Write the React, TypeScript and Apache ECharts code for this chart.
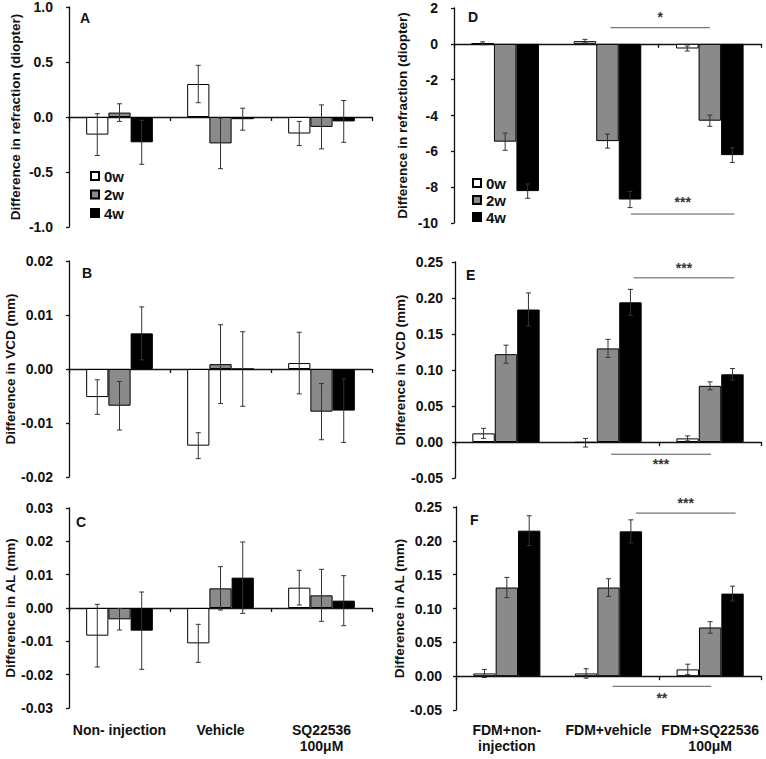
import React, { useEffect, useRef } from 'react';
import * as echarts from 'echarts';

// ---------- data ----------
const leftGroups = ['Non- injection', 'Vehicle', 'SQ22536\n100μM'];
const rightGroups = ['FDM+non-\ninjection', 'FDM+vehicle', 'FDM+SQ22536\n100μM'];
const weeks = ['0w', '2w', '4w'];

// Panel A: refraction (diopter), rows = 0w, 2w, 4w ; columns = groups
const refrMeanA = [
  [-0.16, 0.3, -0.15],
  [0.04, -0.24, -0.09],
  [-0.23, -0.02, -0.04],
];
const refrErrA = [
  [0.19, 0.17, 0.11],
  [0.08, 0.23, 0.2],
  [0.2, 0.1, 0.19],
];
// Panel B: VCD (mm)
const vcdMeanB = [
  [-0.0052, -0.0142, 0.0011],
  [-0.0068, 0.0009, -0.0079],
  [0.0066, 0.0, -0.0077],
];
const vcdErrB = [
  [0.0032, 0.0024, 0.0057],
  [0.0045, 0.0073, 0.0052],
  [0.0049, 0.0069, 0.0059],
];
// Panel C: AL (mm)
const alMeanC = [
  [-0.0083, -0.0106, 0.0061],
  [-0.0034, 0.0059, 0.0038],
  [-0.0068, 0.0091, 0.0022],
];
const alErrC = [
  [0.0094, 0.0057, 0.0052],
  [0.0032, 0.0065, 0.0078],
  [0.0116, 0.0107, 0.0075],
];
// Panel D: refraction (diopter), FDM
const refrMeanD = [
  [0.03, 0.15, -0.26],
  [-5.46, -5.43, -4.29],
  [-8.22, -8.69, -6.21],
];
const refrErrD = [
  [0.08, 0.1, 0.14],
  [0.48, 0.39, 0.31],
  [0.4, 0.45, 0.41],
];
// Panel E: VCD (mm), FDM
const vcdMeanE = [
  [0.012, -0.001, 0.005],
  [0.122, 0.13, 0.078],
  [0.184, 0.194, 0.094],
];
const vcdErrE = [
  [0.007, 0.006, 0.0035],
  [0.0125, 0.0125, 0.0055],
  [0.023, 0.018, 0.008],
];
// Panel F: AL (mm), FDM
const alMeanF = [
  [0.004, 0.004, 0.01],
  [0.131, 0.131, 0.072],
  [0.215, 0.214, 0.122],
];
const alErrF = [
  [0.006, 0.007, 0.0077],
  [0.015, 0.013, 0.0085],
  [0.022, 0.017, 0.011],
];

// significance brackets: x in group units (0..3 across plot), y in data units
const sigD = [
  { x1: 1.53, x2: 2.5, y: 0.9, ty: 1.5, t: '*' },
  { x1: 1.73, x2: 2.74, y: -9.5, ty: -8.85, t: '***' },
];
const sigE = [
  { x1: 1.75, x2: 2.74, y: 0.228, ty: 0.242, t: '***' },
  { x1: 1.53, x2: 2.51, y: -0.017, ty: -0.03, t: '***' },
];
const sigF = [
  { x1: 1.77, x2: 2.75, y: 0.241, ty: 0.256, t: '***' },
  { x1: 1.54, x2: 2.51, y: -0.015, ty: -0.033, t: '**' },
];

// ---------- styling / layout ----------
const FONT = '"Liberation Sans", Arial, Helvetica, sans-serif';
const INK = '#111';
const fills = ['#ffffff', '#8a8a8a', '#000000'];
const CAT_GAP = 0.34;

type Sig = { x1: number; x2: number; y: number; ty: number; t: string };
type Panel = {
  letter: string;
  groups: string[];
  mean: number[][];
  err: number[][];
  sig: Sig[] | null;
  yMin: number;
  yMax: number;
  yStep: number;
  dec: number;
  name: string;
  grid: { left: number; top: number; width: number; height: number };
  labelMargin: number;
  nameGap: number;
  xLabels: boolean;
  xLabelMargin: number;
  letterPos: [number, number];
};

const panels: Panel[] = [
  {
    letter: 'A', groups: leftGroups, mean: refrMeanA, err: refrErrA, sig: null,
    yMin: -1, yMax: 1, yStep: 0.5, dec: 1, name: 'Difference in refraction (diopter)',
    grid: { left: 69, top: 7, width: 303, height: 220 }, labelMargin: 16, nameGap: 47,
    xLabels: false, xLabelMargin: 0, letterPos: [80, 11],
  },
  {
    letter: 'B', groups: leftGroups, mean: vcdMeanB, err: vcdErrB, sig: null,
    yMin: -0.02, yMax: 0.02, yStep: 0.01, dec: 2, name: 'Difference in VCD (mm)',
    grid: { left: 69, top: 261, width: 303, height: 216 }, labelMargin: 16, nameGap: 48,
    xLabels: false, xLabelMargin: 0, letterPos: [82, 266],
  },
  {
    letter: 'C', groups: leftGroups, mean: alMeanC, err: alErrC, sig: null,
    yMin: -0.03, yMax: 0.03, yStep: 0.01, dec: 2, name: 'Difference in AL (mm)',
    grid: { left: 69, top: 508, width: 303, height: 200 }, labelMargin: 16, nameGap: 51,
    xLabels: true, xLabelMargin: 14, letterPos: [76, 515],
  },
  {
    letter: 'D', groups: rightGroups, mean: refrMeanD, err: refrErrD, sig: sigD,
    yMin: -10, yMax: 2, yStep: 2, dec: 0, name: 'Difference in refraction (diopter)',
    grid: { left: 454, top: 8, width: 307, height: 215 }, labelMargin: 16, nameGap: 45,
    xLabels: false, xLabelMargin: 0, letterPos: [468, 10],
  },
  {
    letter: 'E', groups: rightGroups, mean: vcdMeanE, err: vcdErrE, sig: sigE,
    yMin: -0.05, yMax: 0.25, yStep: 0.05, dec: 2, name: 'Difference in VCD (mm)',
    grid: { left: 455, top: 262, width: 306, height: 216 }, labelMargin: 12, nameGap: 44,
    xLabels: false, xLabelMargin: 0, letterPos: [466, 268],
  },
  {
    letter: 'F', groups: rightGroups, mean: alMeanF, err: alErrF, sig: sigF,
    yMin: -0.05, yMax: 0.25, yStep: 0.05, dec: 2, name: 'Difference in AL (mm)',
    grid: { left: 456, top: 507, width: 305, height: 203 }, labelMargin: 14, nameGap: 44,
    xLabels: true, xLabelMargin: 12, letterPos: [470, 513],
  },
];

function buildOption() {
  const grid: any[] = [];
  const xAxis: any[] = [];
  const yAxis: any[] = [];
  const series: any[] = [];
  const graphic: any[] = [];
  const lineStyle = { color: INK, width: 1.3 };

  panels.forEach((p, i) => {
    grid.push({ ...p.grid });
    const fmt = (v: number) => (Math.abs(v) < 1e-9 ? 0 : v).toFixed(p.dec);
    yAxis.push({
      type: 'value', gridIndex: i, min: p.yMin, max: p.yMax, interval: p.yStep,
      axisLine: { show: true, onZero: false, lineStyle },
      axisTick: { show: true, length: 3, lineStyle },
      splitLine: { show: false },
      axisLabel: { formatter: fmt, fontSize: 14, fontWeight: 'bold', color: INK, fontFamily: FONT, margin: p.labelMargin },
      name: p.name, nameLocation: 'middle', nameGap: p.nameGap,
      nameTextStyle: { fontSize: 13.5, fontWeight: 'bold', color: INK, fontFamily: FONT },
    });
    const mainX = xAxis.length;
    xAxis.push({
      type: 'category', gridIndex: i, data: p.groups, position: 'top',
      axisLine: { show: true, onZero: true, lineStyle },
      axisTick: { show: true, inside: true, length: 4, lineStyle },
      axisLabel: { show: false },
      splitLine: { show: false },
    });
    if (p.xLabels) {
      xAxis.push({
        type: 'category', gridIndex: i, data: p.groups, position: 'bottom',
        axisLine: { show: false, onZero: false },
        axisTick: { show: false },
        splitLine: { show: false },
        axisLabel: {
          show: true, interval: 0, margin: p.xLabelMargin, fontSize: 14, fontWeight: 'bold',
          color: INK, fontFamily: FONT, lineHeight: 16,
        },
      });
    }
    let valX = -1;
    if (p.sig) {
      valX = xAxis.length;
      xAxis.push({ type: 'value', gridIndex: i, min: 0, max: 3, show: false, position: 'bottom' });
    }

    weeks.forEach((w, k) => {
      series.push({
        name: w, type: 'bar', xAxisIndex: mainX, yAxisIndex: i,
        data: p.mean[k], barGap: '0%', barCategoryGap: `${CAT_GAP * 100}%`,
        itemStyle: { color: fills[k], borderColor: '#000', borderWidth: 1 },
        z: 2, silent: true,
      });
    });
    weeks.forEach((w, k) => {
      series.push({
        name: `err-${w}`, type: 'custom', xAxisIndex: mainX, yAxisIndex: i,
        data: p.mean[k].map((v, j) => [j, v, p.err[k][j]]),
        encode: { x: 0, y: 1 }, z: 3, silent: true,
        renderItem: (params: any, api: any) => {
          const j = api.value(0);
          const v = api.value(1);
          const e = api.value(2);
          const band = api.size([1, 0])[0];
          const bw = (band * (1 - CAT_GAP)) / 3;
          const base = api.coord([j, v]);
          const cx = base[0] + (k - 1) * bw;
          const yTop = api.coord([j, v + e])[1];
          const yBot = api.coord([j, v - e])[1];
          const cap = 2.5;
          const style = { stroke: '#333', lineWidth: 1 };
          return {
            type: 'group',
            children: [
              { type: 'line', shape: { x1: cx, y1: yTop, x2: cx, y2: yBot }, style },
              { type: 'line', shape: { x1: cx - cap, y1: yTop, x2: cx + cap, y2: yTop }, style },
              { type: 'line', shape: { x1: cx - cap, y1: yBot, x2: cx + cap, y2: yBot }, style },
            ],
          };
        },
      });
    });
    if (p.sig) {
      const sig = p.sig;
      series.push({
        name: 'sig', type: 'custom', xAxisIndex: valX, yAxisIndex: i,
        data: sig.map((s) => [s.x1, s.y]),
        encode: { x: 0, y: 1 }, z: 4, silent: true,
        renderItem: (params: any, api: any) => {
          const s = sig[params.dataIndex];
          const a = api.coord([s.x1, s.y]);
          const b = api.coord([s.x2, s.y]);
          const t = api.coord([(s.x1 + s.x2) / 2, s.ty]);
          return {
            type: 'group',
            children: [
              { type: 'line', shape: { x1: a[0], y1: a[1], x2: b[0], y2: b[1] }, style: { stroke: '#555', lineWidth: 1 } },
              {
                type: 'text', x: t[0], y: t[1],
                style: { text: s.t, fill: '#333', fontSize: 14, fontWeight: 'bold', fontFamily: FONT, align: 'center', verticalAlign: 'middle' },
              },
            ],
          };
        },
      });
    }
    graphic.push({
      type: 'text', left: p.letterPos[0], top: p.letterPos[1],
      style: { text: p.letter, fill: INK, fontSize: 14, fontWeight: 'bold', fontFamily: FONT },
    });
  });

  const legendBase = {
    data: weeks.map((w) => ({ name: w, icon: 'rect' })),
    orient: 'vertical', itemWidth: 8, itemHeight: 8, padding: 0,
    selectedMode: false,
    textStyle: { fontSize: 15, fontWeight: 'bold', color: INK, fontFamily: FONT, lineHeight: 16 },
  };

  return {
    animation: false,
    backgroundColor: '#ffffff',
    grid, xAxis, yAxis, series, graphic,
    legend: [
      { ...legendBase, left: 90, top: 168, itemGap: 2.5 },
      { ...legendBase, left: 472, top: 175, itemGap: 1 },
    ],
  };
}

export default function App() {
  const ref = useRef<HTMLDivElement>(null);
  useEffect(() => {
    document.body.style.margin = '0';
    if (!ref.current) return;
    const chart = echarts.init(ref.current, undefined, { renderer: 'svg' });
    chart.setOption(buildOption() as any);
    return () => chart.dispose();
  }, []);
  return <div ref={ref} style={{ width: 766, height: 759 }} />;
}
